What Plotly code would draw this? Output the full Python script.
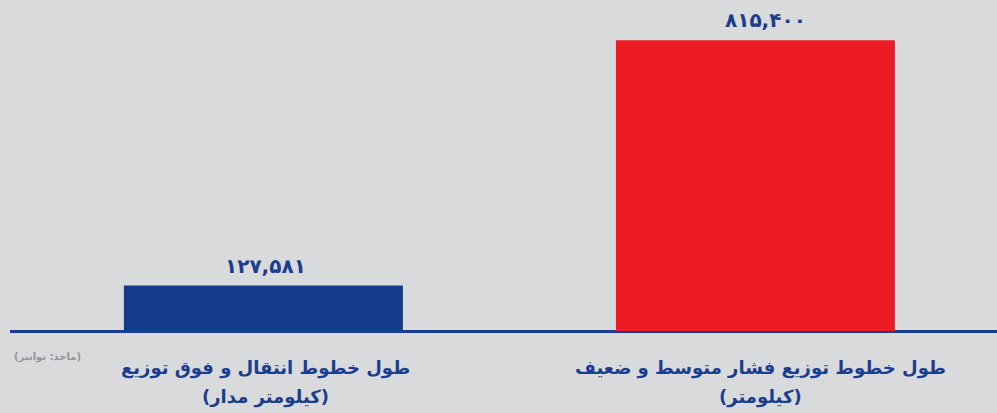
import plotly.graph_objects as go

categories = ["transmission", "distribution"]
values = [127581, 815400]
value_labels = ["۱۲۷,۵۸۱", "۸۱۵,۴۰۰"]
label_line1 = ["طول خطوط انتقال و فوق توزیع", "طول خطوط توزیع فشار متوسط و ضعیف"]
label_line2 = ["(کیلومتر مدار)", "(کیلومتر)"]
bar_colors = ["#123c8b", "#ed1c24"]
source_note = "(ماخذ: توانیر)"

BG = "#d9dadc"
NAVY = "#1b3d8f"
FONT = "DejaVu Sans"
value_xshift = [2, 10]
label_xshift = [2, 5]

fig = go.Figure()
fig.add_trace(go.Bar(
    x=categories, y=values, marker_color=bar_colors, width=0.567,
    marker_line_width=0, hoverinfo="skip",
))

for c, v, t, dx in zip(categories, values, value_labels, value_xshift):
    fig.add_annotation(x=c, y=v, text="<b>" + t + "</b>", showarrow=False,
                       yanchor="middle", yshift=20, xshift=dx, xref="x", yref="y",
                       font=dict(family=FONT, size=20, color=NAVY))

for c, t1, t2, dx in zip(categories, label_line1, label_line2, label_xshift):
    fig.add_annotation(x=c, y=0, text="<b>" + t1 + "</b>", showarrow=False,
                       yanchor="middle", yshift=-37, xshift=dx, xref="x", yref="y",
                       font=dict(family=FONT, size=18, color=NAVY))
    fig.add_annotation(x=c, y=0, text="<b>" + t2 + "</b>", showarrow=False,
                       yanchor="middle", yshift=-66, xshift=dx, xref="x", yref="y",
                       font=dict(family=FONT, size=18, color=NAVY))

fig.add_annotation(x=0, xref="paper", xanchor="left", xshift=2, y=0, yref="y",
                   yanchor="middle", yshift=-26, text="<b>" + source_note + "</b>",
                   showarrow=False, font=dict(family=FONT, size=10, color="#939598"))

fig.update_layout(
    width=997, height=413,
    margin=dict(l=10, r=0, t=10, b=82),
    paper_bgcolor=BG, plot_bgcolor=BG,
    showlegend=False,
    xaxis=dict(range=[-0.515, 1.491], showticklabels=False, ticks="",
               showgrid=False, zeroline=False, showline=False, fixedrange=True),
    yaxis=dict(range=[0, 900000], showticklabels=False, ticks="", showgrid=False,
               zeroline=True, zerolinecolor=NAVY, zerolinewidth=3, showline=False,
               fixedrange=True),
)

fig.write_html(
    "out.html",
    config={"displayModeBar": False},
    post_script="document.body.style.margin='0';document.body.style.overflow='hidden';",
)
